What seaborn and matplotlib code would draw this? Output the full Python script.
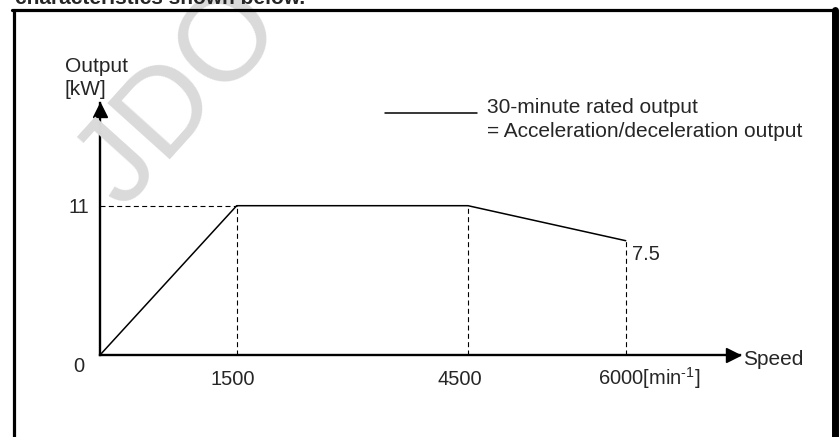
import numpy as np
import pandas as pd
import matplotlib
matplotlib.use("Agg")
import matplotlib.pyplot as plt
from matplotlib.lines import Line2D
from matplotlib import transforms
import seaborn as sns

# output characteristic (30-minute rated = acc/dec output)
speed = [0, 1500, 4500, 6000]
output_kw = [0, 11, 11, 7.5]
x_tick_values = [1500, 4500]
x_tick_labels = ["1500", "4500"]
max_speed_label = "6000[min$^{\\text{-}1}$]"
legend_lines = ["30-minute rated output", "= Acceleration/deceleration output"]

W, H = 839, 437

sns.set_theme(style="white")
plt.rcParams["font.family"] = ["Liberation Sans", "DejaVu Sans"]
plt.rcParams["mathtext.fontset"] = "custom"
plt.rcParams["mathtext.sf"] = "Liberation Sans"
plt.rcParams["mathtext.rm"] = "Liberation Sans"


def px(x, y):
    # pixel (from top-left) -> figure fraction
    return x / W, 1 - y / H


# the drawing is schematic: axes are piecewise linear, not to scale
sp_knots = [-1000, 0, 1500, 4500, 6000, 9000]
sp_draw = [-91.1, 0, 136.7, 368, 525.7, 841.0]
kw_knots = [-5, 0, 7.5, 11, 30]
kw_draw = [-67.9, 0, 114.3, 149.3, 407.1]


def fwd(k, d):
    return lambda v: np.interp(v, k, d)


def inv(k, d):
    return lambda v: np.interp(v, d, k)


fig = plt.figure(figsize=(W / 100, H / 100), dpi=100)
ax = fig.add_axes([100 / W, (H - 355) / H, 640 / W, 252 / H])
ax.set_xscale("function", functions=(fwd(sp_knots, sp_draw), inv(sp_knots, sp_draw)))
ax.set_yscale("function", functions=(fwd(kw_knots, kw_draw), inv(kw_knots, kw_draw)))
ax.set_xlim(0, inv(sp_knots, sp_draw)(640))
ax.set_ylim(0, inv(kw_knots, kw_draw)(252))

df = pd.DataFrame({"speed": speed, "output": output_kw})
sns.lineplot(data=df, x="speed", y="output", color="black", lw=1.1,
             estimator=None, sort=False, ax=ax, zorder=3)

# dashed guide lines
dash = dict(color="black", lw=0.8, linestyle=(0, (4.5, 3)))
ax.vlines(speed[1:], 0, output_kw[1:], **dash)
ax.hlines(output_kw[1], 0, speed[1], **dash)

for s in ["top", "right"]:
    ax.spines[s].set_visible(False)
for s in ["left", "bottom"]:
    ax.spines[s].set_linewidth(1.7)
    ax.spines[s].set_color("black")
ax.set_xticks([])
ax.set_yticks([])
ax.set_xlabel("")
ax.set_ylabel("")

# axis arrow heads
ax.plot(633 / 640, 0, ">", color="black", ms=10, transform=ax.get_yaxis_transform(),
        clip_on=False)
ax.plot(0, (355 - 110) / 252, "^", color="black", ms=10, transform=ax.get_xaxis_transform(),
        clip_on=False)


def off(dx, dy):
    return transforms.offset_copy(ax.transData, fig=fig, x=dx, y=dy, units="dots")


fs = 15
for val, lab, dx in zip(x_tick_values, x_tick_labels, [-4, -8]):
    ax.text(val, 0, lab, transform=off(dx, -30), ha="center", va="baseline", fontsize=14.5)
ax.text(speed[-1], 0, max_speed_label, transform=off(-28, -30), ha="left", va="baseline",
        fontsize=14.5)
ax.text(0, 0, "0", transform=off(-21, -17), ha="center", va="baseline", fontsize=14.5)
ax.text(0, output_kw[1], "11", transform=off(-21, -7), ha="center", va="baseline",
        fontsize=14.5)
ax.text(speed[-1], output_kw[-1], "7.5", transform=off(6, -19), ha="left", va="baseline",
        fontsize=14.5)

fig.text(*px(743, 365), "Speed", ha="left", va="baseline", fontsize=fs)
fig.text(*px(65, 72), "Output", ha="left", va="baseline", fontsize=fs)
fig.text(*px(65, 95), "[kW]", ha="left", va="baseline", fontsize=fs)

# legend
fig.add_artist(Line2D([385 / W, 477 / W], [1 - 113 / H, 1 - 113 / H], color="black", lw=1.1))
fig.text(*px(487, 113), legend_lines[0], ha="left", va="baseline", fontsize=fs)
fig.text(*px(487, 137), legend_lines[1], ha="left", va="baseline", fontsize=fs)

# frame of the figure box and the cut-off caption above it
fig.add_artist(Line2D([13.5 / W, 13.5 / W], [0, 1 - 10 / H], color="black", lw=2.3))
fig.add_artist(Line2D([12 / W, 836 / W], [1 - 10 / H, 1 - 10 / H], color="black", lw=2.3))
fig.add_artist(Line2D([835 / W, 835 / W], [0, 1 - 10 / H], color="black", lw=5))
fig.text(*px(15, 4), "characteristics shown below.", ha="left", va="baseline",
         fontsize=15, fontweight="bold")

# watermark
fig.text(*px(180, 98), "JDO", rotation=48, ha="center", va="center", fontsize=88,
         color="#dadada", zorder=0)

fig.savefig("out.png", dpi=100)
